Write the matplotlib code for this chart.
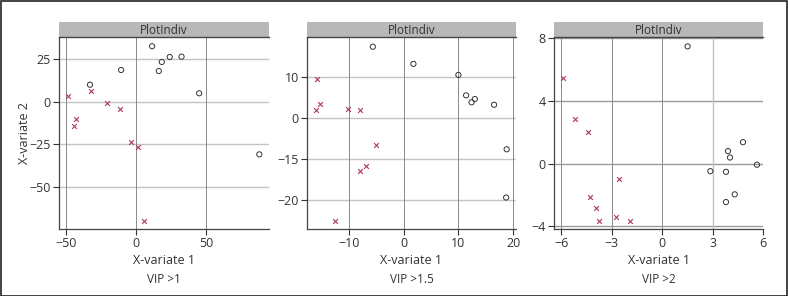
import matplotlib
matplotlib.use("Agg")
import matplotlib.pyplot as plt
from matplotlib.patches import Rectangle

plt.rcParams["font.family"] = ["Open Sans", "DejaVu Sans"]

# ---- data ------------------------------------------------------------------
p1_circ_x = [11.4, 18.3, 16.2, 24.0, 32.4, -10.7, -32.9, 45.0, 87.9]
p1_circ_y = [32.4, 23.2, 17.9, 26.1, 26.3, 18.5, 9.9, 4.9, -30.8]
p1_cross_x = [-48.6, -32.4, -42.9, -44.0, -20.5, -11.7, -3.8, 1.0, 5.5]
p1_cross_y = [3.5, 6.2, -9.9, -14.2, -0.6, -4.1, -23.6, -26.3, -70.0]

p2_circ_x = [-5.6, 1.8, 10.0, 11.4, 12.4, 13.0, 16.5, 18.8, 18.7]
p2_circ_y = [17.5, 13.3, 10.6, 5.6, 3.9, 4.7, 3.3, -7.6, -19.4]
p2_cross_x = [-15.7, -15.2, -15.9, -10.2, -7.9, -5.0, -6.8, -7.9, -12.5]
p2_cross_y = [9.5, 3.6, 2.0, 2.3, 1.9, -6.5, -11.8, -13.0, -25.2]

p3_circ_x = [1.52, 5.64, 4.81, 3.92, 4.04, 2.87, 3.80, 4.32, 3.80]
p3_circ_y = [7.49, -0.06, 1.38, 0.81, 0.40, -0.47, -0.51, -1.95, -2.44]
p3_cross_x = [-5.86, -5.19, -4.40, -2.55, -4.28, -3.90, -3.76, -2.75, -1.90]
p3_cross_y = [5.46, 2.87, 2.00, -0.96, -2.14, -2.85, -3.63, -3.38, -3.65]

p1_xticks = [-50, 0, 50]
p1_yticks = [25, 0, -25, -50]
p2_xticks = [-10, 0, 10, 20]
p2_yticks = [10, 0, -10, -20]
p2_ylabels = ["10", "0", "\u221215", "\u221220"]   # as printed in the source
p3_xticks = [-6, -3, 0, 3, 6]
p3_yticks = [8, 4, 0, -4]

subtitles = ["VIP >1", "VIP >1.5", "VIP >2"]

W, H = 788, 296
fig = plt.figure(figsize=(W / 100, H / 100), dpi=100)
fig.patches.append(Rectangle((0.5 / W, 0.5 / H), 1 - 1.5 / W, 1 - 1.5 / H,
                             transform=fig.transFigure, fill=False,
                             edgecolor="#222222", lw=1.2))

panels = [
    dict(left=59, right=269, xlim=(-55, 94.8), ylim=(-74.4, 37.6),
         xt=p1_xticks, yt=p1_yticks, yl=None, cx=p1_circ_x, cy=p1_circ_y,
         kx=p1_cross_x, ky=p1_cross_y, hcol="#c4c4c4", light_x=[]),
    dict(left=307, right=516, xlim=(-17.6, 20.5), ylim=(-27.1, 19.8),
         xt=p2_xticks, yt=p2_yticks, yl=p2_ylabels, cx=p2_circ_x, cy=p2_circ_y,
         kx=p2_cross_x, ky=p2_cross_y, hcol="#c4c4c4", light_x=[]),
    dict(left=554, right=763, xlim=(-6.42, 6.0), ylim=(-4.16, 8.07),
         xt=p3_xticks, yt=p3_yticks, yl=None, cx=p3_circ_x, cy=p3_circ_y,
         kx=p3_cross_x, ky=p3_cross_y, hcol="#9a9a9a", light_x=[3]),
]

top, bottom, strip_top = 37.3, 229, 22
for i, p in enumerate(panels):
    ax = fig.add_axes([p["left"] / W, 1 - bottom / H,
                       (p["right"] - p["left"]) / W, (bottom - top) / H])
    ax.set_xlim(*p["xlim"])
    ax.set_ylim(*p["ylim"])
    for v in p["yt"]:
        ax.axhline(v, color=p["hcol"], lw=1.0, zorder=0)
    for v in p["xt"]:
        c = "#c4c4c4" if v in p["light_x"] else "#8a8a8a"
        ax.axvline(v, color=c, lw=1.0 if v in p["light_x"] else 0.7, zorder=0)
    ax.scatter(p["cx"], p["cy"], s=14, facecolors="none", edgecolors="#333333",
               linewidths=0.7, zorder=3)
    ax.scatter(p["kx"], p["ky"], s=12, marker="x", color="#b03a55",
               linewidths=0.8, zorder=3)
    ax.set_xticks(p["xt"])
    ax.set_yticks(p["yt"])
    if p["yl"]:
        ax.set_yticklabels(p["yl"])
    else:
        ax.set_yticklabels([str(v).replace("-", "\u2212") for v in p["yt"]])
    ax.set_xticklabels([str(v).replace("-", "\u2212") for v in p["xt"]])
    ax.tick_params(labelsize=9, colors="#333333", length=4, width=0.8, pad=2)
    for s in ["top", "right"]:
        ax.spines[s].set_visible(False)
    for s in ["left", "bottom"]:
        ax.spines[s].set_color("#444444")
        ax.spines[s].set_linewidth(0.9)
    ax.set_xlabel("X-variate 1", fontsize=9, color="#333333", labelpad=3)
    if i == 0:
        ax.set_ylabel("X-variate 2", fontsize=9, color="#333333", labelpad=-1)
    ax.text(0.5, -0.265, subtitles[i], transform=ax.transAxes, ha="center",
            va="center", fontsize=8.5, color="#333333")

    sax = fig.add_axes([p["left"] / W, 1 - top / H,
                        (p["right"] - p["left"]) / W, (top - strip_top) / H])
    sax.set_facecolor("#b8b8b8")
    sax.set_xticks([])
    sax.set_yticks([])
    for s in ["top", "left", "right"]:
        sax.spines[s].set_visible(False)
    sax.spines["bottom"].set_color("#444444")
    sax.spines["bottom"].set_linewidth(1.0)
    sax.text(0.5, 0.45, "PlotIndiv", transform=sax.transAxes, ha="center",
             va="center", fontsize=8.5, color="#333333")

fig.savefig("out.png", dpi=100)
